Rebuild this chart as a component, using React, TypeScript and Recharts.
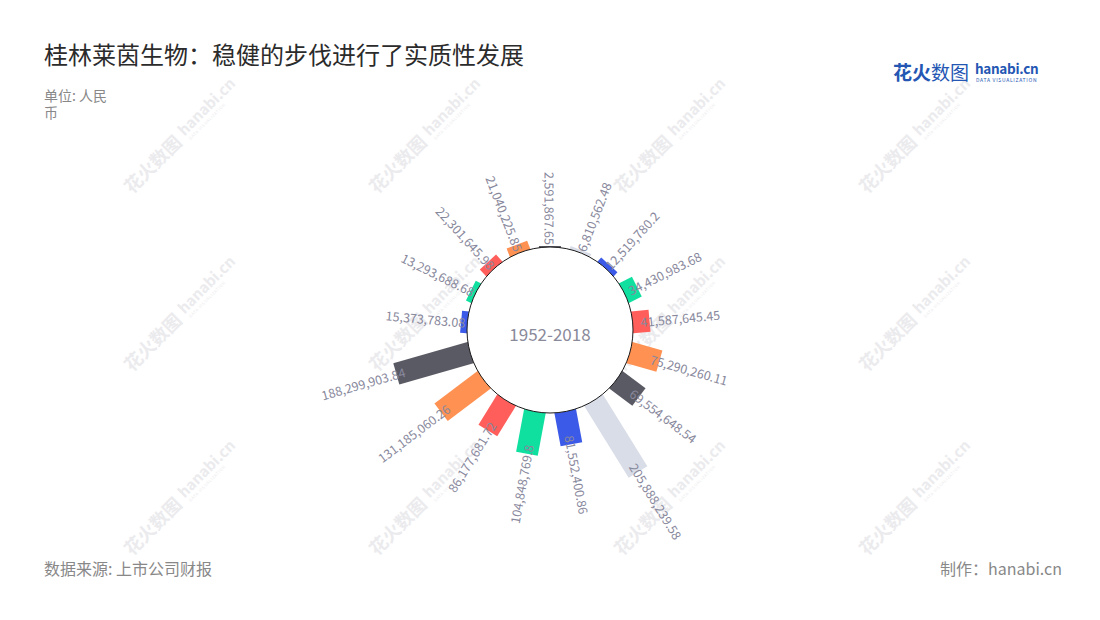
import { RadialBarChart, RadialBar, PolarAngleAxis, PolarRadiusAxis, Cell } from 'recharts'

const FONT = '"Noto Sans CJK SC", "Noto Sans", sans-serif'

// clockwise from 12 o'clock
const CATEGORIES = ['01', '02', '03', '04', '05', '06', '07', '08', '09', '10', '11', '12', '13', '14', '15', '16', '17']
const VALUES = [
  2591867.65, 6810562.48, 12519780.2, 34430983.68, 41587645.45, 75290260.11, 69554648.54, 205888239.58,
  81552400.86, 104848769.8, 86177681.72, 131185060.26, 188299903.84, 15373783.08, 13293688.68, 22301645.98,
  21040225.85,
]
const BAR_COLORS = [
  '#5a5a64', '#d9dde8', '#3c5ae8', '#0fe0a0', '#ff5e5a', '#ff9152', '#5a5a64', '#d9dde8', '#3c5ae8',
  '#0fe0a0', '#ff5e5a', '#ff9152', '#5a5a64', '#3c5ae8', '#0fe0a0', '#ff5e5a', '#ff9152',
]
const CENTER_LABEL = '1952-2018'

const rows = CATEGORIES.map((name, i) => ({ name, value: VALUES[i] }))
const MAX_VALUE = Math.max(...VALUES)

const CX = 550
const CY = 330
const INNER = 83
const OUTER = 167
const STEP = 360 / CATEGORIES.length
const START = 90 - STEP / 2
const BAR_WIDTH = 22
const LABEL_INSET = 9
const LABEL_COLOR = '#88889c'

const WM_X = [183, 428, 673, 918]
const WM_Y = [135, 313, 497]

function fmt(v: number) {
  return v.toLocaleString('en-US', { maximumFractionDigits: 2 })
}

function RadialRect(props: any) {
  const { cx, cy, innerRadius, outerRadius, startAngle, endAngle, fill } = props
  const raw = props.payload?.value ?? props.value
  const mid = (startAngle + endAngle) / 2
  const rad = (-mid * Math.PI) / 180
  const ux = Math.cos(rad)
  const uy = Math.sin(rad)
  const px = -uy * (BAR_WIDTH / 2)
  const py = ux * (BAR_WIDTH / 2)
  const r0 = innerRadius - 3
  const r1 = Math.max(outerRadius, innerRadius)
  const ax = cx + ux * r0
  const ay = cy + uy * r0
  const bx = cx + ux * r1
  const by = cy + uy * r1
  const d = `M${ax + px},${ay + py}L${bx + px},${by + py}L${bx - px},${by - py}L${ax - px},${ay - py}Z`
  const lr = Math.max(r1 - LABEL_INSET, innerRadius + 2)
  const lx = cx + ux * lr
  const ly = cy + uy * lr
  const flip = ux < 1e-6
  let rot = (Math.atan2(uy, ux) * 180) / Math.PI
  if (flip) rot += 180
  return (
    <g>
      <path d={d} fill={fill} />
      <text
        x={lx}
        y={ly}
        transform={`rotate(${rot} ${lx} ${ly})`}
        textAnchor={flip ? 'end' : 'start'}
        dominantBaseline="central"
        fontSize={12.5}
        fill={LABEL_COLOR}
        fontFamily={FONT}
      >
        {fmt(raw)}
      </text>
    </g>
  )
}

function Watermarks() {
  return (
    <svg width={1100} height={620} style={{ position: 'absolute', left: 0, top: 0 }}>
      {WM_Y.map((y) =>
        WM_X.map((x) => (
          <g key={`${x}-${y}`} transform={`translate(${x} ${y}) rotate(-45)`} fill="#ebebee" fontFamily={FONT}>
            <text x={-78} y={6} fontSize={18} fontWeight={700}>花火数图</text>
            <text x={0} y={2} fontSize={15} fontWeight={700}>hanabi.cn</text>
            <text x={2} y={9} fontSize={4} letterSpacing={0.6}>DATA VISUALIZATION</text>
          </g>
        ))
      )}
    </svg>
  )
}

export default function App() {
  return (
    <div style={{ position: 'relative', width: 1100, height: 620, background: '#fff', fontFamily: FONT, overflow: 'hidden' }}>
      <style>{'body{margin:0}'}</style>
      <Watermarks />
      <div style={{ position: 'absolute', left: 44, top: 36, fontSize: 24, color: '#2b2b2b', whiteSpace: 'nowrap' }}>
        桂林莱茵生物：稳健的步伐进行了实质性发展
      </div>
      <div style={{ position: 'absolute', left: 44, top: 87, width: 70, fontSize: 14, lineHeight: '17px', color: '#888' }}>
        单位: 人民币
      </div>
      <div style={{ position: 'absolute', left: 893, top: 58, whiteSpace: 'nowrap' }}>
        <span style={{ fontSize: 19, fontWeight: 700, color: '#2456b3' }}>花火</span>
        <span style={{ fontSize: 19, color: '#2456b3' }}>数图</span>
      </div>
      <div style={{ position: 'absolute', left: 975, top: 62, fontSize: 13.5, lineHeight: '13px', fontWeight: 700, color: '#2456b3', letterSpacing: -0.3 }}>
        hanabi.cn
      </div>
      <div style={{ position: 'absolute', left: 976, top: 77, fontSize: 5, lineHeight: '6px', color: '#2456b3', letterSpacing: 0.7, whiteSpace: 'nowrap' }}>
        DATA VISUALIZATION
      </div>
      <div style={{ position: 'absolute', left: 0, top: 0 }}>
        <RadialBarChart
          width={1100}
          height={620}
          data={rows}
          layout="centric"
          cx={CX}
          cy={CY}
          innerRadius={INNER}
          outerRadius={OUTER}
          startAngle={START}
          endAngle={START - 360}
          margin={{ top: 0, right: 0, bottom: 0, left: 0 }}
        >
          <PolarAngleAxis type="category" dataKey="name" tick={false} axisLine={false} tickLine={false} />
          <PolarRadiusAxis type="number" domain={[0, MAX_VALUE]} tick={false} axisLine={false} tickLine={false} />
          <RadialBar dataKey="value" isAnimationActive={false} shape={RadialRect}>
            {VALUES.map((_, i) => (
              <Cell key={i} fill={BAR_COLORS[i]} />
            ))}
          </RadialBar>
        </RadialBarChart>
      </div>
      <svg width={1100} height={620} style={{ position: 'absolute', left: 0, top: 0, pointerEvents: 'none' }}>
        <circle cx={CX} cy={CY} r={INNER} fill="#fff" stroke="#1a1a1a" strokeWidth={1} />
        <text x={CX} y={CY + 3} textAnchor="middle" dominantBaseline="central" fontSize={17} fill="#8a8a9a" fontFamily={FONT}>
          {CENTER_LABEL}
        </text>
      </svg>
      <div style={{ position: 'absolute', left: 44, top: 556, fontSize: 16, color: '#888' }}>数据来源: 上市公司财报</div>
      <div style={{ position: 'absolute', right: 38, top: 556, fontSize: 16, color: '#888' }}>制作：hanabi.cn</div>
    </div>
  )
}
